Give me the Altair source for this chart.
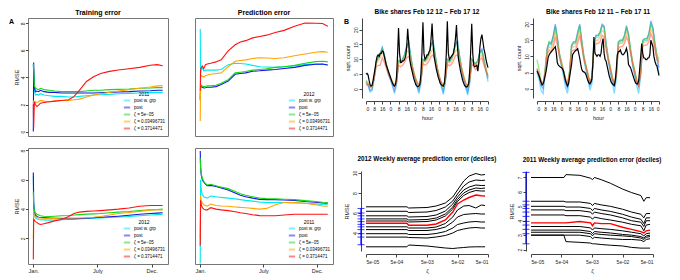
import altair as alt
import pandas as pd

FONT = "Liberation Sans"
SERIES = ["post w. grp", "post", "ζ = 5e−05", "ζ = 0.03496731", "ζ = 0.3714471"]
A_COLORS = ["#00E8F0", "#1414E6", "#14D814", "#FFA500", "#FF1010"]
B_COLORS = ["#00C8FF", "#4060FF", "#30E030", "#FFA020", "#FF5040"]

# ---------------- A: cumulative RMSE over the year (day of year) ----------------
days = [0, 1, 3, 6, 10, 15, 20, 30, 45, 60, 80, 100, 115, 130, 150, 170, 190, 215, 240, 270, 300, 330, 350, 365]

tl_cyan = [5.0, 4.2, 3.0, 2.7, 2.75, 2.7, 2.8, 2.7, 2.65, 2.6, 2.6, 2.55, 2.55, 2.6, 2.65, 2.7, 2.72, 2.75, 2.8, 2.82, 2.85, 2.88, 2.9, 2.9]
tl_blue = [0.0, 5.1, 3.3, 2.95, 3.0, 2.95, 3.05, 2.95, 2.9, 2.9, 2.85, 2.85, 2.85, 2.85, 2.85, 2.85, 2.87, 2.9, 2.92, 2.95, 3.0, 3.02, 3.05, 3.05]
tl_green = [5.0, 4.6, 3.4, 3.2, 3.15, 3.1, 3.2, 3.1, 3.05, 3.0, 2.95, 2.95, 2.95, 2.95, 3.0, 3.05, 3.05, 3.1, 3.12, 3.15, 3.2, 3.22, 3.25, 3.25]
tl_orange = [2.0, 2.3, 2.1, 2.2, 2.15, 2.2, 2.3, 2.25, 2.2, 2.25, 2.3, 2.3, 2.35, 2.4, 2.55, 2.7, 2.8, 2.9, 3.0, 3.1, 3.2, 3.3, 3.38, 3.4]
tl_red = [2.0, 0.3, 2.2, 2.0, 1.85, 1.95, 2.1, 2.15, 2.2, 2.25, 2.3, 2.35, 2.6, 3.05, 3.7, 4.05, 4.3, 4.45, 4.55, 4.65, 4.75, 4.9, 4.95, 4.87]

tm_cyan = [7.5, 4.3, 4.6, 4.65, 4.45, 4.5, 4.5, 4.5, 4.5, 4.55, 4.9, 5.0, 4.98, 4.95, 4.85, 4.75, 4.73, 4.7, 4.75, 4.8, 4.92, 4.95, 4.93, 4.87]
tm_blue = [2.3, 3.25, 3.3, 3.25, 3.2, 3.22, 3.25, 3.25, 3.3, 3.45, 3.7, 4.2, 4.25, 4.3, 4.42, 4.45, 4.5, 4.55, 4.62, 4.7, 4.85, 4.93, 4.95, 4.87]
tm_green = [2.5, 3.35, 3.4, 3.35, 3.3, 3.32, 3.35, 3.35, 3.4, 3.55, 3.8, 4.3, 4.35, 4.4, 4.5, 4.55, 4.6, 4.7, 4.75, 4.85, 5.0, 5.12, 5.15, 5.1]
tm_orange = [0.8, 3.95, 4.1, 4.05, 4.0, 4.1, 4.15, 4.2, 4.25, 4.3, 4.75, 5.15, 5.2, 5.25, 5.35, 5.4, 5.38, 5.35, 5.4, 5.55, 5.68, 5.8, 5.85, 5.8]
tm_red = [3.0, 4.5, 4.7, 4.8, 4.6, 4.9, 4.95, 5.0, 5.1, 5.25, 5.9, 6.35, 6.55, 6.65, 6.85, 6.95, 7.05, 7.25, 7.4, 7.7, 7.93, 7.92, 7.9, 7.7]

bl_cyan = [6.25, 4.2, 3.55, 3.4, 3.35, 3.3, 3.28, 3.27, 3.25, 3.26, 3.28, 3.3, 3.32, 3.34, 3.36, 3.38, 3.4, 3.43, 3.46, 3.5, 3.55, 3.6, 3.63, 3.65]
bl_blue = [6.5, 4.5, 3.8, 3.6, 3.5, 3.45, 3.43, 3.42, 3.4, 3.38, 3.36, 3.35, 3.35, 3.36, 3.38, 3.42, 3.45, 3.48, 3.52, 3.58, 3.65, 3.7, 3.73, 3.75]
bl_green = [5.2, 4.3, 3.9, 3.75, 3.65, 3.6, 3.55, 3.52, 3.5, 3.52, 3.55, 3.57, 3.6, 3.63, 3.66, 3.68, 3.7, 3.75, 3.8, 3.84, 3.9, 3.95, 3.98, 4.0]
bl_orange = [2.0, 3.8, 3.55, 3.5, 3.45, 3.4, 3.4, 3.38, 3.35, 3.37, 3.4, 3.4, 3.4, 3.4, 3.42, 3.45, 3.5, 3.6, 3.7, 3.77, 3.85, 3.95, 3.95, 3.95]
bl_red = [0.57, 3.3, 3.25, 3.15, 3.1, 3.0, 2.95, 3.0, 3.1, 3.2, 3.3, 3.5, 3.7, 3.8, 3.85, 3.87, 3.9, 3.95, 4.0, 4.08, 4.2, 4.25, 4.25, 4.25]

bm_cyan = [0.3, 6.0, 5.3, 5.0, 4.85, 4.8, 4.75, 4.9, 4.85, 4.8, 4.75, 4.7, 4.65, 4.6, 4.55, 4.48, 4.45, 4.45, 4.45, 4.43, 4.4, 4.36, 4.32, 4.3]
bm_blue = [7.96, 6.9, 6.3, 6.0, 5.85, 5.7, 5.6, 5.62, 5.55, 5.45, 5.3, 5.1, 4.95, 4.85, 4.75, 4.67, 4.65, 4.65, 4.62, 4.6, 4.52, 4.47, 4.42, 4.4]
bm_green = [7.5, 6.8, 6.4, 6.1, 5.9, 5.75, 5.65, 5.7, 5.6, 5.5, 5.4, 5.2, 5.05, 4.95, 4.85, 4.75, 4.72, 4.7, 4.68, 4.65, 4.58, 4.52, 4.47, 4.45]
bm_orange = [2.0, 4.9, 4.6, 4.4, 4.3, 4.25, 4.2, 4.35, 4.25, 4.22, 4.2, 4.15, 4.12, 4.1, 4.05, 4.0, 4.05, 4.3, 4.45, 4.45, 4.4, 4.3, 4.22, 4.2]
bm_red = [1.5, 4.6, 4.3, 4.1, 4.0, 3.95, 3.95, 4.1, 4.0, 3.95, 3.9, 3.82, 3.75, 3.7, 3.62, 3.56, 3.55, 3.55, 3.6, 3.65, 3.65, 3.65, 3.65, 3.65]

month_ticks = [0, 181, 334]

# ---------------- B: hourly bike shares ----------------
hours_black = list(range(0, 121))
hours_col = list(range(0, 121, 2))

b12_black = [5.0, 5.3, 4.8, 3.0, 1.5, 1.0, 1.3, 3.0, 5.0, 7.0, 9.5, 11.0, 11.5, 11.0, 12.0, 12.0, 12.8, 12.5, 11.0, 9.5, 8.0, 7.0, 6.0, 5.0,
             4.0, 3.0, 2.0, 1.3, 1.0, 1.5, 4.0, 11.0, 20.5, 12.0, 9.0, 9.0, 9.5, 9.5, 10.0, 11.0, 14.0, 20.3, 15.5, 10.0, 8.0, 6.5, 5.0, 3.5,
             2.5, 1.5, 1.0, 0.8, 1.0, 1.5, 5.0, 12.0, 22.5, 12.0, 10.0, 10.5, 11.5, 11.5, 12.5, 13.0, 17.0, 22.0, 15.0, 11.0, 9.0, 7.0, 5.5, 4.0,
             3.0, 2.0, 1.5, 1.2, 1.0, 1.8, 5.5, 12.0, 22.8, 12.0, 10.0, 10.5, 11.0, 11.5, 12.0, 14.0, 17.0, 21.5, 14.0, 10.0, 8.0, 6.0, 4.5, 3.0,
             2.0, 1.2, 0.8, 0.7, 1.0, 2.0, 6.0, 13.0, 22.0, 12.0, 8.0, 7.5, 7.8, 8.0, 6.0, 9.0, 14.0, 17.0, 18.3, 16.0, 13.5, 12.0, 10.0, 8.5, 7.2]
b12_cyan = [2.0, 1.0, -1.0, -0.5, 3.5, 9.0, 10.5, 12.0, 14.0, 11.5, 8.0, 5.0,
            3.0, 1.0, -1.5, 1.5, 9.5, 9.0, 10.0, 11.5, 14.5, 15.5, 11.0, 6.5,
            3.5, 1.0, -1.5, 2.0, 10.0, 9.5, 10.5, 12.0, 15.0, 16.0, 11.5, 7.0,
            3.5, 0.8, -1.8, 2.0, 10.0, 9.2, 10.2, 12.0, 15.2, 16.0, 11.0, 6.8,
            3.0, 0.5, -2.0, 2.0, 10.0, 9.0, 8.5, 9.5, 12.5, 13.0, 9.5, 6.0, 2.5]
b12_blue = [2.5, 1.5, -0.5, 0.0, 3.5, 9.0, 10.5, 12.0, 14.0, 11.5, 8.0, 5.5,
            3.5, 1.5, -0.5, 2.0, 9.5, 9.0, 10.0, 11.5, 14.5, 16.0, 11.0, 7.0,
            4.0, 1.5, -0.5, 2.5, 10.0, 9.5, 10.5, 12.0, 15.0, 16.0, 11.5, 7.0,
            4.0, 1.3, -0.8, 2.5, 10.0, 9.3, 10.3, 12.0, 15.3, 16.2, 11.2, 7.0,
            3.5, 1.0, -1.0, 2.5, 10.0, 9.0, 8.5, 9.5, 12.5, 13.5, 10.0, 6.5, 3.5]
b12_green = [3.0, 2.0, 0.5, 0.5, 4.0, 9.0, 10.5, 11.5, 13.5, 11.5, 8.5, 6.0,
             4.0, 2.5, 0.8, 2.5, 9.5, 9.0, 10.0, 11.5, 14.0, 15.0, 11.0, 7.0,
             4.5, 2.5, 0.5, 3.0, 10.0, 9.5, 10.5, 12.0, 14.5, 15.5, 11.5, 7.5,
             4.5, 2.3, 0.3, 3.0, 10.0, 9.3, 10.3, 12.0, 14.7, 15.5, 11.2, 7.3,
             4.5, 2.0, 0.3, 3.0, 10.0, 9.0, 8.5, 9.5, 12.0, 12.5, 10.0, 7.0, 4.5]
b12_orange = [2.5, 2.0, 0.8, 1.0, 4.0, 8.5, 9.5, 10.5, 12.5, 10.5, 8.0, 5.5,
              4.0, 2.5, 1.0, 2.5, 9.0, 8.5, 9.5, 10.5, 12.5, 13.0, 10.0, 7.0,
              4.5, 2.5, 1.0, 3.0, 9.5, 9.0, 9.5, 11.0, 12.5, 13.5, 10.5, 7.0,
              4.5, 2.3, 0.8, 3.0, 9.5, 8.8, 9.3, 11.0, 12.8, 13.5, 10.3, 7.0,
              4.5, 2.0, 0.8, 3.0, 9.5, 8.5, 8.0, 9.0, 11.0, 11.5, 9.0, 6.5, 4.0]
b12_red = [1.5, 1.5, 0.8, 1.0, 3.5, 7.5, 8.0, 8.0, 10.5, 9.0, 7.0, 5.0,
           3.5, 2.0, 1.5, 2.5, 8.0, 7.5, 8.0, 9.0, 10.5, 11.0, 9.0, 6.5,
           4.0, 2.5, 1.5, 3.0, 8.5, 8.0, 8.5, 9.5, 11.0, 11.5, 9.5, 6.5,
           4.0, 2.3, 1.3, 3.0, 8.5, 7.8, 8.3, 9.5, 11.2, 11.5, 9.3, 6.5,
           4.0, 2.0, 1.0, 3.0, 8.5, 7.5, 6.5, 7.5, 10.0, 10.5, 8.0, 6.0, 4.5]

b11_black = [5.5, 4.8, 4.0, 3.0, 2.0, 1.1, 1.5, 2.5, 4.0, 5.5, 7.5, 9.7, 10.5, 11.0, 11.4, 11.8, 12.2, 12.6, 13.0, 11.0, 8.0, 7.3, 7.0, 6.7,
             6.5, 6.2, 5.5, 4.0, 2.5, 1.6, 0.8, 1.5, 3.5, 5.5, 7.5, 10.5, 11.0, 11.5, 11.8, 12.0, 12.4, 11.0, 9.5, 7.6, 6.0, 5.4, 5.2, 5.0,
             4.5, 3.5, 2.5, 1.8, 1.5, 2.0, 3.0, 8.0, 16.0, 11.0, 10.5, 10.0, 10.5, 10.5, 10.0, 11.0, 14.0, 15.5, 11.0, 9.0, 8.5, 7.0, 5.5, 4.0,
             3.0, 2.0, 1.5, 1.2, 1.0, 2.5, 6.0, 10.5, 11.5, 11.5, 12.0, 11.0, 10.5, 10.5, 11.0, 11.5, 12.5, 11.0, 7.5, 7.0, 6.5, 5.5, 4.5, 3.5,
             2.5, 1.8, 1.5, 1.5, 2.5, 6.0, 10.0, 14.0, 11.0, 9.5, 9.5, 9.0, 9.0, 9.5, 9.5, 10.5, 15.0, 14.0, 13.0, 10.0, 8.5, 7.5, 7.0, 5.5, 4.0]
b11_cyan = [5.0, 3.0, -0.5, -1.5, 4.5, 12.0, 14.0, 13.5, 16.0, 19.5, 15.5, 10.0,
            7.0, 4.0, 0.5, -1.5, 4.0, 13.0, 14.0, 14.0, 17.0, 19.5, 14.5, 9.0,
            6.0, 3.0, -0.5, 1.5, 13.5, 16.0, 16.0, 17.0, 19.5, 19.0, 13.5, 8.5,
            5.0, 2.0, -1.5, 3.0, 14.0, 14.5, 14.5, 16.0, 19.0, 16.5, 11.5, 7.0,
            4.0, 1.0, -1.5, 4.0, 14.5, 15.0, 15.0, 16.5, 20.0, 18.5, 13.5, 9.0, 4.5]
b11_blue = [6.0, 4.0, 1.0, 0.0, 5.5, 12.5, 14.5, 14.0, 16.5, 20.0, 16.0, 11.0,
            8.0, 5.0, 2.0, 0.0, 5.0, 13.5, 14.5, 14.5, 17.5, 20.0, 15.0, 10.0,
            7.0, 4.0, 1.0, 2.5, 14.0, 16.5, 16.5, 17.5, 20.0, 19.5, 14.0, 9.5,
            6.0, 3.0, 0.5, 4.0, 14.5, 15.0, 15.0, 16.5, 19.5, 17.0, 12.0, 8.0,
            5.0, 2.0, 0.5, 5.0, 15.0, 15.5, 15.5, 17.0, 21.0, 19.0, 14.0, 10.0, 6.5]
b11_green = [9.0, 6.0, 2.5, 1.5, 6.0, 12.5, 14.5, 14.0, 16.0, 19.0, 15.5, 11.0,
             8.5, 6.0, 3.0, 1.5, 5.5, 13.5, 14.5, 14.5, 17.0, 19.5, 15.0, 10.5,
             7.5, 5.0, 2.0, 3.5, 14.0, 16.5, 16.5, 17.5, 19.5, 19.0, 14.0, 10.0,
             7.0, 4.0, 1.5, 4.5, 14.5, 15.0, 15.0, 16.5, 19.0, 17.0, 12.5, 8.5,
             6.0, 3.0, 1.5, 5.5, 15.0, 15.5, 15.5, 17.0, 20.0, 18.5, 14.0, 10.5, 9.0]
b11_orange = [6.5, 4.5, 2.0, 1.5, 5.5, 11.5, 13.0, 12.5, 14.5, 17.5, 14.5, 10.5,
              8.0, 5.5, 3.0, 1.5, 5.0, 12.5, 13.0, 13.0, 15.5, 18.0, 14.0, 10.0,
              7.0, 4.5, 2.0, 3.5, 13.0, 15.0, 15.0, 16.0, 18.0, 17.5, 13.0, 9.5,
              6.5, 3.5, 1.5, 4.0, 13.5, 14.0, 14.0, 15.0, 17.5, 15.5, 11.5, 8.0,
              5.5, 2.5, 1.0, 5.0, 14.0, 14.5, 14.5, 15.5, 18.5, 17.0, 13.0, 9.5, 8.0]
b11_red = [6.0, 4.5, 2.0, 1.5, 5.0, 10.5, 12.0, 11.5, 13.0, 16.0, 13.5, 10.0,
           7.5, 5.5, 3.0, 1.5, 4.5, 11.5, 12.0, 12.0, 14.0, 16.5, 13.0, 9.5,
           7.0, 4.5, 2.0, 3.5, 12.0, 14.0, 14.0, 14.5, 16.5, 16.0, 12.0, 9.0,
           6.5, 3.5, 1.5, 4.0, 12.5, 13.0, 13.0, 14.0, 16.0, 14.5, 11.0, 8.0,
           5.5, 2.5, 1.0, 4.5, 13.0, 13.5, 13.5, 14.5, 17.0, 15.5, 12.0, 9.0, 8.5]
hour_ticks = [0, 8, 16, 24, 32, 40, 48, 56, 64, 72, 80, 88, 96, 104, 112, 120]

# ---------------- B: weekly average prediction error deciles vs zeta ----------------
z12 = [5e-05, 1.1e-03, 1.25e-03, 5e-03, 1e-02, 2e-02, 3.5e-02, 5e-02, 8e-02, 1.2e-01, 2e-01, 3e-01, 4e-01]
dec12 = [
    [6.62, 6.62, 6.5, 6.55, 6.7, 7.0, 7.6, 8.3, 9.2, 9.7, 9.95, 9.8, 9.85],
    [6.17, 6.17, 6.05, 6.1, 6.25, 6.6, 7.2, 7.9, 8.7, 9.1, 9.3, 9.25, 9.28],
    [5.72, 5.72, 5.6, 5.65, 5.8, 6.2, 6.9, 7.6, 8.3, 8.6, 8.8, 8.75, 8.76],
    [5.41, 5.41, 5.3, 5.35, 5.5, 5.9, 6.6, 7.35, 8.0, 8.3, 8.5, 8.45, 8.5],
    [5.2, 5.2, 5.1, 5.15, 5.3, 5.7, 6.4, 7.15, 7.75, 8.05, 8.25, 8.2, 8.2],
    [4.97, 4.97, 4.78, 4.78, 4.9, 5.3, 6.1, 6.9, 7.3, 7.55, 7.8, 7.72, 7.7],
    [4.62, 4.62, 4.5, 4.5, 4.6, 4.95, 5.6, 6.3, 6.7, 6.75, 6.5, 6.8, 6.75],
    [4.34, 4.34, 4.25, 4.25, 4.35, 4.6, 5.1, 5.6, 5.85, 5.9, 5.95, 5.9, 5.9],
    [3.93, 3.93, 3.85, 3.85, 3.95, 4.15, 4.5, 4.85, 5.0, 5.1, 5.15, 5.1, 5.1],
    [3.59, 3.59, 3.55, 3.5, 3.6, 3.75, 4.0, 4.25, 4.4, 4.5, 4.55, 4.5, 4.5],
    [2.62, 2.62, 2.8, 2.7, 2.6, 2.5, 2.45, 2.5, 2.55, 2.6, 2.62, 2.62, 2.62],
]
rug12 = [6.45, 6.0, 5.72, 5.41, 5.14, 4.86, 4.62, 4.34, 3.93, 3.59, 2.83]

z11 = [5e-05, 6e-04, 7e-04, 2e-03, 4.5e-03, 5.2e-03, 6e-03, 1e-02, 2e-02, 5e-02, 1e-01, 2e-01, 2.5e-01, 3e-01, 4e-01]
dec11 = [
    [7.0, 7.0, 7.2, 7.15, 6.95, 6.85, 7.0, 6.85, 6.6, 6.2, 5.95, 5.75, 5.35, 5.6, 5.6],
    [5.35, 5.35, 5.3, 5.3, 5.2, 5.05, 5.2, 5.1, 5.0, 4.8, 4.6, 4.45, 4.2, 4.5, 4.5],
    [5.0, 5.0, 4.95, 4.95, 4.85, 4.7, 4.85, 4.75, 4.65, 4.45, 4.25, 4.1, 3.8, 4.2, 4.2],
    [4.75, 4.75, 4.7, 4.7, 4.6, 4.45, 4.6, 4.5, 4.4, 4.2, 4.0, 3.9, 3.6, 4.0, 4.0],
    [4.4, 4.4, 4.35, 4.35, 4.25, 4.1, 4.25, 4.15, 4.05, 3.9, 3.75, 3.65, 3.3, 3.7, 3.75],
    [3.85, 3.85, 3.85, 3.95, 3.85, 3.65, 3.85, 3.8, 3.8, 3.55, 3.4, 3.25, 3.15, 3.3, 3.35],
    [3.6, 3.6, 3.6, 3.6, 3.5, 3.35, 3.5, 3.45, 3.4, 3.3, 3.2, 3.1, 2.95, 3.1, 3.15],
    [3.35, 3.35, 3.35, 3.35, 3.25, 3.1, 3.25, 3.2, 3.15, 3.05, 3.0, 2.9, 2.8, 2.95, 3.0],
    [3.2, 3.2, 3.2, 3.2, 3.1, 2.95, 3.1, 3.05, 3.0, 2.95, 2.9, 2.8, 2.7, 2.85, 2.9],
    [3.0, 3.0, 3.0, 3.0, 2.9, 2.75, 2.85, 2.8, 2.75, 2.7, 2.7, 2.65, 2.55, 2.7, 2.75],
    [3.0, 3.0, 2.55, 2.5, 2.45, 2.4, 2.4, 2.35, 2.3, 2.25, 2.15, 2.1, 2.1, 2.1, 2.1],
]
rug11 = [7.35, 5.35, 5.1, 4.85, 4.6, 4.3, 3.95, 3.7, 3.4, 3.1, 2.4]
zeta_ticks = [5e-05, 5e-04, 5e-03, 5e-02, 5e-01]
MEDIAN = 5

AXC = "#444444"


def series_df(xs, cols, xname):
    rows = []
    for name, vals in zip(SERIES, cols):
        for x, v in zip(xs, vals):
            rows.append({xname: x, "v": v, "s": name})
    return pd.DataFrame(rows)


def panel_letter(letter, dx, dy):
    return alt.Chart(pd.DataFrame({"t": [letter]})).mark_text(
        fontSize=7, fontWeight="bold", align="left", baseline="top", color="black"
    ).encode(text="t:N", x=alt.value(dx), y=alt.value(dy))


def a_panel(cols, title, legend_title, ydom, yvals, show_x, width, height, letter=None):
    df = series_df(days, cols, "day")
    xaxis = None
    if show_x:
        xaxis = alt.Axis(values=month_ticks, title=None, domain=False, grid=False, tickSize=3,
                         tickColor=AXC, labelFontSize=5.5, labelPadding=1, labelOverlap=False,
                         labelExpr="datum.value == 0 ? 'Jan.' : datum.value == 181 ? 'July' : 'Dec.'")
    yaxis = None
    if yvals:
        yaxis = alt.Axis(values=yvals, title="RMSE", domain=False, grid=False, tickSize=2.5, tickColor=AXC,
                         labelAngle=-90, labelAlign="center", labelBaseline="bottom", labelFontSize=5,
                         labelPadding=0.5, labelOverlap=False, titleFontSize=5.5, titlePadding=1)
    ch = alt.Chart(df).mark_line(strokeWidth=1.1, clip=True).encode(
        x=alt.X("day:Q", scale=alt.Scale(domain=[-15, 380], nice=False, zero=False), axis=xaxis),
        y=alt.Y("v:Q", scale=alt.Scale(domain=ydom, nice=False, zero=False), axis=yaxis),
        color=alt.Color("s:N", scale=alt.Scale(domain=SERIES, range=A_COLORS),
                        legend=alt.Legend(title=legend_title, orient="bottom-right", offset=2,
                                          titleFontSize=5, titleFontWeight="normal", titleAnchor="middle",
                                          titlePadding=0.5, labelFontSize=4.5, labelOffset=4,
                                          symbolType="M-2,0H2", symbolSize=10, symbolStrokeWidth=2,
                                          symbolOpacity=0.5, rowPadding=-2, padding=1)),
    )
    if letter:
        ch = alt.layer(ch, panel_letter(letter, -19, 0))
    ch = ch.properties(width=width, height=height, view=alt.ViewBackground(stroke="#777777", strokeWidth=1))
    if title:
        ch = ch.properties(title=alt.TitleParams(title, fontSize=7, fontWeight="bold", offset=2))
    return ch


def bike_panel(colored, black, title, ydom, letter=None):
    cdf = series_df(hours_col, colored, "h")
    bdf = pd.DataFrame({"h": hours_black, "v": black})
    xaxis = alt.Axis(values=hour_ticks, labelExpr="'' + (datum.value % 24)", title="hour",
                     offset=3, grid=False, tickSize=3, tickColor=AXC, domainColor=AXC,
                     labelFontSize=5, labelPadding=2, labelOverlap=False, titleFontSize=5.5,
                     titlePadding=4)
    yaxis = alt.Axis(values=[0, 5, 10, 15, 20], title="sqrt. count", offset=4, grid=False,
                     tickSize=3, tickColor=AXC, domainColor=AXC, labelAngle=-90,
                     labelAlign="center", labelBaseline="bottom", labelFontSize=5, labelPadding=1,
                     labelOverlap=False, titleFontSize=5.5, titlePadding=3)
    xs = alt.Scale(domain=[0, 120], nice=False, zero=False)
    ys = alt.Scale(domain=ydom, nice=False, zero=False)
    col = alt.Chart(cdf).mark_line(strokeWidth=1.3, opacity=0.55).encode(
        x=alt.X("h:Q", scale=xs, axis=xaxis), y=alt.Y("v:Q", scale=ys, axis=yaxis),
        color=alt.Color("s:N", scale=alt.Scale(domain=SERIES, range=B_COLORS), legend=None))
    blk = alt.Chart(bdf).mark_line(strokeWidth=1.2, color="black").encode(
        x=alt.X("h:Q", scale=xs, axis=xaxis), y=alt.Y("v:Q", scale=ys, axis=yaxis))
    layers = [col, blk]
    if letter:
        layers.append(panel_letter(letter, -22, 0))
    return alt.layer(*layers).properties(
        width=122, height=80,
        title=alt.TitleParams(title, fontSize=6.5, fontWeight="bold", offset=3))


def decile_panel(zs, lines, rug, title, ydom, yvals):
    rows = []
    for k, vals in enumerate(lines):
        for z, v in zip(zs, vals):
            rows.append({"z": z, "v": v, "k": k})
    df = pd.DataFrame(rows)
    rdf = pd.DataFrame({"v": rug})
    xaxis = alt.Axis(values=zeta_ticks, title="ζ", offset=3, grid=False, tickSize=3,
                     tickColor=AXC, domainColor=AXC, labelFontSize=5, labelPadding=2,
                     labelOverlap=False, titleFontSize=6, titlePadding=3,
                     labelExpr="datum.value < 1e-4 ? '5e-05' : datum.value < 1e-3 ? '5e-04' : datum.value < 1e-2 ? '5e-03' : datum.value < 1e-1 ? '5e-02' : '5e-01'")
    yaxis = alt.Axis(values=yvals, title="RMSE", offset=5, grid=False, tickSize=3,
                     tickColor=AXC, domainColor=AXC, labelAngle=-90, labelAlign="center",
                     labelBaseline="bottom", labelFontSize=5, labelPadding=1, labelOverlap=False,
                     titleFontSize=5.5, titlePadding=3)
    xs = alt.Scale(type="log", domain=[5e-05, 5e-01], nice=False)
    ys = alt.Scale(domain=ydom, nice=False, zero=False)
    X = alt.X("z:Q", scale=xs, axis=xaxis)
    Y = alt.Y("v:Q", scale=ys, axis=yaxis)
    blk = alt.Chart(df).transform_filter(alt.datum.k != MEDIAN).mark_line(
        color="black", strokeWidth=1).encode(x=X, y=Y, detail="k:N")
    red = alt.Chart(df).transform_filter(alt.datum.k == MEDIAN).mark_line(
        color="red", strokeWidth=1.4).encode(x=X, y=Y)
    rug_line = alt.Chart(rdf).transform_aggregate(lo="min(v)", hi="max(v)").mark_rule(
        color="blue", strokeWidth=1.2, xOffset=-5).encode(
        x=alt.datum(5e-05), y=alt.Y("lo:Q", scale=ys, axis=yaxis), y2="hi:Q")
    rug_ticks = alt.Chart(rdf).mark_tick(color="blue", orient="horizontal", size=7, thickness=1.1,
                                         xOffset=-5).encode(x=alt.datum(5e-05), y=Y)
    return alt.layer(blk, red, rug_line, rug_ticks).properties(
        width=122, height=80,
        title=alt.TitleParams(title, fontSize=6.3, fontWeight="bold", offset=8))


TL = a_panel([tl_cyan, tl_blue, tl_green, tl_orange, tl_red], "Training error", "2011",
             [-0.33, 8.4], [0, 2, 4, 6, 8], False, 140, 118, letter="A")
TM = a_panel([tm_cyan, tm_blue, tm_green, tm_orange, tm_red], "Prediction error", "2012",
             [-0.3, 8.3], None, False, 138, 118)
BL = a_panel([bl_cyan, bl_blue, bl_green, bl_orange, bl_red], None, "2012",
             [0.26, 8.17], [2, 4, 6, 8], True, 140, 116)
BM = a_panel([bm_cyan, bm_blue, bm_green, bm_orange, bm_red], None, "2011",
             [0.26, 8.17], None, True, 138, 116)

S12 = bike_panel([b12_cyan, b12_blue, b12_green, b12_orange, b12_red], b12_black,
                 "Bike shares Feb 12 12 \u2013 Feb 17 12", [-3.0, 23.9], letter="B")
S11 = bike_panel([b11_cyan, b11_blue, b11_green, b11_orange, b11_red], b11_black,
                 "Bike shares Feb 12 11  \u2013 Feb 17 11", [-2.9, 21.9])
D12 = decile_panel(z12, dec12, rug12, "2012 Weekly average prediction error (deciles)",
                   [2.2, 10.2], [4, 6, 8, 10])
D11 = decile_panel(z11, dec11, rug11, "2011 Weekly average prediction error (deciles)",
                   [1.9, 7.45], [2, 3, 4, 5, 6, 7])

rowA1 = alt.hconcat(TL, TM, spacing=25).resolve_scale(color="independent").resolve_legend(color="independent")
rowA2 = alt.hconcat(BL, BM, spacing=25).resolve_scale(color="independent").resolve_legend(color="independent")
colA = alt.vconcat(rowA1, rowA2, spacing=10).resolve_scale(color="independent").resolve_legend(color="independent")

rowB1 = alt.hconcat(S12, S11, spacing=25).resolve_scale(color="independent")
rowB2 = alt.hconcat(D12, D11, spacing=12)
colB = alt.vconcat(rowB1, rowB2, spacing=34).resolve_scale(color="independent")

chart = alt.hconcat(colA, colB, spacing=10).resolve_scale(color="independent").resolve_legend(
    color="independent").properties(padding=0).configure(font=FONT).configure_view(stroke=None).configure_axis(
    labelFont=FONT, titleFont=FONT, titleFontWeight="normal", labelColor="#222222",
    titleColor="#222222", labelOverlap=False).configure_title(font=FONT, color="#000000")

chart.save("out.html", embed_options={"renderer": "svg", "actions": False})
